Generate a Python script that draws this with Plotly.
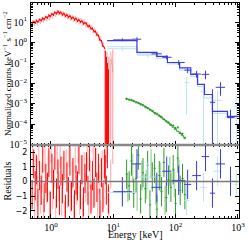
import plotly.graph_objects as go

# ---------------- data ----------------
# dark-red soft X-ray spectrum
red_E = [0.50,0.53,0.56,0.59,0.62,0.66,0.70,0.74,0.78,0.83,0.88,0.93,0.98,1.04,1.10,1.16,1.23,1.30,1.37,1.45,
         1.53,1.62,1.71,1.81,1.91,2.02,2.14,2.26,2.39,2.53,2.67,2.82,2.98,3.15,3.33,3.52,3.72,3.93,4.15,4.39,
         4.64,4.90,5.18,5.47,5.78,6.11,6.46,6.82,7.21]
red_F = [8.2,10.4,9.1,11.6,10.2,13.1,12.0,15.3,13.8,17.9,16.4,21.2,19.0,24.8,22.6,29.5,26.4,33.0,27.1,29.6,
         23.2,25.8,20.1,22.4,17.6,19.8,15.1,17.0,13.2,14.9,11.4,12.8,10.1,11.2,8.4,9.3,8.3,6.1,6.6,4.8,
         4.9,3.5,3.5,2.4,2.2,1.35,1.2,0.68,0.55]
red_R = [-0.9,1.2,-0.3,0.8,-1.5,0.4,-0.6,1.6,-1.1,0.2,-0.4,1.3,-1.7,0.9,-0.2,1.8,-0.8,0.5,-1.3,0.7,
         -0.5,1.1,-1.9,0.3,-0.7,1.4,-1.0,0.6,-1.6,0.1,-0.3,1.5,-0.9,0.8,-1.4,0.2,1.0,-0.6,1.7,-1.2,
         0.4,-0.8,1.3,-0.4,0.9,-1.5,0.6,-1.1,1.2]
# light-red spectrum
pink_E = [0.51,0.545,0.575,0.605,0.64,0.68,0.72,0.76,0.805,0.855,0.905,0.955,1.01,1.07,1.13,1.195,1.265,1.335,1.41,1.49,
          1.575,1.665,1.76,1.86,1.965,2.08,2.2,2.325,2.46,2.6,2.745,2.9,3.065,3.24,3.425,3.62,3.825,4.04,4.27,4.515,
          4.77,5.04,5.325,5.625,5.945,6.285,6.64,7.015,7.41]
pink_F = [10.1,8.6,11.2,9.4,12.3,10.8,14.2,12.6,16.8,14.9,19.8,17.2,23.5,20.4,27.6,24.1,31.2,28.0,30.5,25.2,
          26.9,21.6,23.4,18.3,20.2,15.8,17.9,13.9,15.6,12.1,13.4,10.6,11.9,9.0,10.2,7.6,8.1,6.8,5.4,5.6,
          3.9,4.1,2.7,2.8,1.7,1.6,0.9,0.85,0.42]
pink_R = [1.4,-1.8,0.9,-0.7,2.1,-1.2,0.3,-2.2,1.7,-0.5,1.1,-1.6,2.3,-0.9,0.6,-2.0,1.5,-0.3,1.9,-1.4,
          0.7,-2.4,1.2,-0.8,2.0,-1.1,0.4,-1.9,1.6,-0.6,2.2,-1.3,0.8,-2.1,1.0,-0.4,1.8,-1.7,0.5,-1.0,
          2.4,-0.7,1.3,-1.5,0.2,-2.3,1.1,-0.9,1.6]
# high-energy cut-off channels (upper/lower flux bounds)
redcut_E = [7.45, 7.75, 8.05, 8.35]
redcut_F = [0.25, 0.12, 0.05, 0.03]
redcut_hi = [0.4, 0.2, 0.1, 0.05]
redcut_lo = [1e-7, 1e-7, 1e-7, 1e-7]
redcut_R = [0.8, -0.6, 1.9, -1.2]
pinkcut_E = [7.9, 8.5, 9.1, 9.8]
pinkcut_F = [0.2, 0.1, 0.07, 0.1]
pinkcut_hi = [0.35, 0.2, 0.15, 0.45]
pinkcut_lo = [1e-7, 1e-7, 1e-7, 1e-7]
pinkcut_R = [2.3, -1.4, 0.5, 2.2]
pinkmod_E = [9.0, 9.9]
pinkmod_F = [0.35, 0.035]

# blue hard X-ray spectrum (bins)
blue_E  = [14, 24, 50, 72, 112, 156, 217, 302, 390, 525, 760]
blue_lo = [10, 20, 41, 61, 88, 138, 185, 262, 355, 440, 660]
blue_hi = [20, 28, 60, 86, 140, 178, 255, 345, 430, 620, 880]
blue_F  = [1.35, 1.45, 0.28, 0.19, 0.105, 0.045, 0.029, 0.028, 0.0012, 0.0065, 0.00022]
blue_up = [0.25, 0.35, 0.07, 0.05, 0.03, 0.015, 0.012, 0.014, 0.004, 0.005, 0.0003]
blue_dn = [0.2, 0.3, 0.06, 0.04, 0.025, 0.013, 0.010, 0.012, 0.0012, 0.004, 0.00022]
blue_R  = [-0.7, 1.2, -0.4, 0.7, 0.07, -0.2, 0.4, 1.7, -0.8, 1.2, 0.0]
blue_edges = [8, 24, 50, 74, 116, 175, 225, 290, 390, 680, 1040]
blue_mod   = [1.25, 0.33, 0.21, 0.106, 0.058, 0.028, 0.009, 0.0029, 0.00043, 0.00025]

# light-blue spectrum
lblue_E  = [14, 36, 150, 280, 470, 940]
lblue_lo = [8, 24, 138, 250, 400, 850]
lblue_hi = [24, 50, 165, 310, 550, 1000]
lblue_F  = [0.5, 0.24, 0.011, 0.004, 0.0015, 0.0008]
lblue_up = [0.15, 0.06, 0.01, 0.006, 0.003, 0.002]
lblue_dn = [0.12, 0.05, 0.0107, 0.004, 0.0015, 0.0008]
lblue_R  = [-0.75, 0.3, -1.3, -0.4, 0.7, -0.2]
lblue_edges = [8, 24, 50, 74, 116, 175, 225, 290, 390, 680, 1040]
lblue_mod   = [0.62, 0.27, 0.17, 0.09, 0.045, 0.022, 0.007, 0.002, 0.00035, 0.0002]

# green spectrum
green_E = [16.4,18.0,19.6,21.3,23.2,25.3,27.5,30.0,32.7,35.6,38.8,42.3,46.1,50.2,54.7,59.6,65.0,70.8,77.2,84.1,
           91.6,99.8,108.8,118.6,129.2,141.0]
green_F = [1.8e-3,1.65e-3,1.55e-3,1.42e-3,1.22e-3,1.12e-3,9.6e-4,8.7e-4,7.1e-4,6.3e-4,5.2e-4,4.5e-4,3.6e-4,3.3e-4,
           2.7e-4,2.3e-4,1.8e-4,1.45e-4,1.25e-4,9.8e-5,8.9e-5,6.5e-5,7.2e-5,3.9e-5,3.5e-5,2.2e-5]
green_R = [0.5,-0.3,1.4,-0.8,0.2,1.8,-1.2,0.6,-0.5,1.1,-1.6,0.3,0.9,-1.9,0.4,-0.7,1.3,-1.1,0.1,-0.4,
           0.8,-1.5,1.6,-0.6,0.2,-0.9]
green_edges = [15.6,17.2,18.8,20.4,22.2,24.2,26.4,28.7,31.3,34.1,37.2,40.5,44.2,48.1,52.4,57.1,62.3,67.8,73.9,80.5,
               87.7,95.6,104.2,113.5,123.7,134.8,147.0]
green_mod = [1.75e-3,1.62e-3,1.5e-3,1.37e-3,1.25e-3,1.12e-3,1.0e-3,8.8e-4,7.6e-4,6.5e-4,5.5e-4,4.6e-4,3.8e-4,3.15e-4,
             2.6e-4,2.15e-4,1.75e-4,1.42e-4,1.15e-4,9.2e-5,7.3e-5,5.8e-5,4.6e-5,3.6e-5,2.8e-5,2.2e-5]
lgreen_E = [17.0,20.4,24.2,28.7,34.1,40.5,48.1,57.1,67.8,80.5,95.6,113.5]
lgreen_R = [-0.4,0.9,-1.0,0.4,-0.2,1.2,-0.6,0.3,-1.3,0.7,-0.1,0.5]

# tick labels
x_ticks = [1, 10, 100, 1000]
x_ticktext = ['10<sup>0</sup>', '10<sup>1</sup>', '10<sup>2</sup>', '10<sup>3</sup>']
y_ticks = [1e-5, 1e-4, 1e-3, 1e-2, 1e-1, 1, 10]
y_ticktext = ['10<sup>−5</sup>', '10<sup>−4</sup>', '10<sup>−3</sup>', '10<sup>−2</sup>',
              '10<sup>−1</sup>', '10<sup>0</sup>', '10<sup>1</sup>']
r_ticks = [-2, -1, 0, 1, 2]
r_ticktext = ['−2', '−1', '0', '1', '2']

# ---------------- styles ----------------
RED = '#ff0000'
PINK = 'rgba(255,120,120,0.55)'
BLUE = '#3a3ae0'
LBLUE = '#bfe3ee'
GREEN = '#2e9a2e'
LGREEN = 'rgba(120,190,120,0.6)'
FONT = 'Liberation Serif'

fig = go.Figure()
UP = dict(xaxis='x2', yaxis='y')
LO = dict(xaxis='x', yaxis='y2')


def ebar(x, y, color, axes, ey=None, ex=None, width=1):
    fig.add_trace(go.Scatter(x=x, y=y, mode='markers', marker=dict(size=0.1, color=color),
                             error_y=ey, error_x=ex, showlegend=False, hoverinfo='skip', **axes))


def err(plus, minus, color, width=1):
    return dict(type='data', array=plus, arrayminus=minus, color=color, thickness=width, width=0, symmetric=False)


def xerr(c, lo, hi, color, width=1):
    return dict(type='data', array=[h - e for h, e in zip(hi, c)], arrayminus=[e - l for e, l in zip(c, lo)],
                color=color, thickness=width, width=0, symmetric=False)


def step(edges, vals, color, axes, width=1.2):
    fig.add_trace(go.Scatter(x=edges, y=list(vals) + [vals[-1]], mode='lines', line=dict(color=color, width=width, shape='hv'),
                             showlegend=False, hoverinfo='skip', **axes))

# ---- upper panel ----
ebar(lblue_E, lblue_F, LBLUE, UP, ey=err(lblue_up, lblue_dn, LBLUE), ex=xerr(lblue_E, lblue_lo, lblue_hi, LBLUE))
step(lblue_edges, lblue_mod, LBLUE, UP)
ebar(pink_E, pink_F, PINK, UP, ey=dict(type='percent', value=28, color=PINK, thickness=1.2, width=0))
ebar(pinkcut_E, pinkcut_F, PINK, UP, ey=err([h - f for h, f in zip(pinkcut_hi, pinkcut_F)],
                                           [f - l for f, l in zip(pinkcut_F, pinkcut_lo)], PINK, 1.5))
fig.add_trace(go.Scatter(x=pinkmod_E, y=pinkmod_F, mode='lines', line=dict(color=PINK, width=1.2),
                         showlegend=False, hoverinfo='skip', **UP))
ebar(red_E, red_F, RED, UP, ey=dict(type='percent', value=12, color=RED, thickness=1, width=0))
fig.add_trace(go.Scatter(x=red_E, y=red_F, mode='lines', line=dict(color=RED, width=1),
                         showlegend=False, hoverinfo='skip', **UP))
ebar(redcut_E, redcut_F, RED, UP, ey=err([h - f for h, f in zip(redcut_hi, redcut_F)],
                                         [f - l for f, l in zip(redcut_F, redcut_lo)], RED, 1.2))
step(green_edges, green_mod, GREEN, UP, 1)
ebar(green_E, green_F, GREEN, UP, ey=dict(type='percent', value=14, color=GREEN, thickness=1, width=0),
     ex=dict(type='percent', value=4, color=GREEN, thickness=1, width=0))
step(blue_edges, blue_mod, BLUE, UP)
ebar(blue_E, blue_F, BLUE, UP, ey=err(blue_up, blue_dn, BLUE), ex=xerr(blue_E, blue_lo, blue_hi, BLUE))

# ---- residual panel ----
ebar(pink_E + pinkcut_E, pink_R + pinkcut_R, PINK, LO, ey=dict(type='constant', value=1, color=PINK, thickness=1.2, width=0))
ebar(red_E + redcut_E, red_R + redcut_R, RED, LO, ey=dict(type='constant', value=1, color=RED, thickness=1, width=0))
ebar(lgreen_E, lgreen_R, LGREEN, LO, ey=dict(type='constant', value=1, color=LGREEN, thickness=1.5, width=0))
ebar(green_E, green_R, GREEN, LO, ey=dict(type='constant', value=1, color=GREEN, thickness=1, width=0),
     ex=dict(type='percent', value=4, color=GREEN, thickness=1, width=0))
ebar(lblue_E, lblue_R, LBLUE, LO, ey=dict(type='constant', value=1, color=LBLUE, thickness=1, width=0),
     ex=xerr(lblue_E, lblue_lo, lblue_hi, LBLUE))
ebar(blue_E, blue_R, BLUE, LO, ey=dict(type='constant', value=1, color=BLUE, thickness=1, width=0),
     ex=xerr(blue_E, blue_lo, blue_hi, BLUE))

# ---------------- layout ----------------
SPLIT = 0.34
minor_x = [m * 10 ** k for k in range(-1, 3) for m in range(2, 10)]
minor_y = [m * 10 ** k for k in range(-6, 2) for m in range(2, 10)]
axcommon = dict(showline=True, linecolor='black', linewidth=1, mirror='allticks', ticks='inside',
                ticklen=4, tickcolor='black', showgrid=False, zeroline=False, automargin=False,
                ticklabeloverflow='allow')
SERIF = dict(family=FONT, size=10, color='black')
fig.update_layout(
    width=249, height=241, margin=dict(l=31, r=10, t=3, b=23, autoexpand=False),
    paper_bgcolor='white', plot_bgcolor='white',
    xaxis=dict(type='log', range=[-0.319, 3.017], anchor='y2', domain=[0, 1],
               tickmode='array', tickvals=x_ticks, ticktext=x_ticktext, ticklabelstandoff=0, tickfont=SERIF,
               minor=dict(tickmode='array', tickvals=minor_x, ticks='inside', ticklen=2, tickcolor='black'),
               **axcommon),
    xaxis2=dict(type='log', range=[-0.319, 3.017], anchor='y', matches='x', domain=[0, 1],
                tickmode='array', tickvals=x_ticks, showticklabels=False,
                minor=dict(tickmode='array', tickvals=minor_x, ticks='inside', ticklen=2, tickcolor='black'),
                **axcommon),
    yaxis=dict(type='log', range=[-5, 1.93], domain=[SPLIT, 1], anchor='x2',
               tickmode='array', tickvals=y_ticks, ticktext=y_ticktext, ticklabelstandoff=1, tickfont=SERIF,
               minor=dict(tickmode='array', tickvals=minor_y, ticks='inside', ticklen=2, tickcolor='black'),
               **axcommon),
    yaxis2=dict(range=[-2.5, 2.5], domain=[0, SPLIT], anchor='x',
                tickmode='array', tickvals=r_ticks, ticktext=r_ticktext, ticklabelstandoff=1,
                tickfont=dict(family='DejaVu Sans', size=8, color='black'),
                minor=dict(tickmode='array', tickvals=[-2.5, -1.5, -0.5, 0.5, 1.5, 2.5], ticks='inside', ticklen=2, tickcolor='black'),
                **axcommon),
    shapes=[
        dict(type='line', xref='paper', yref='y2', x0=0, x1=1, y0=0, y1=0, line=dict(color='#777777', width=1.5), layer='above'),
        dict(type='line', xref='paper', yref='paper', x0=0, x1=1, y0=SPLIT, y1=SPLIT, line=dict(color='#888888', width=2.5), layer='above'),
    ],
    annotations=[
        dict(text='Normalized counts keV<sup>−1</sup> s<sup>−1</sup> cm<sup>−2</sup>', xref='paper', yref='paper',
             x=-0.115, y=(1 + SPLIT) / 2, textangle=-90, showarrow=False, xanchor='center', yanchor='middle',
             font=dict(family=FONT, size=9, color='black')),
        dict(text='Residuals', xref='paper', yref='paper', x=-0.115, y=SPLIT / 2, textangle=-90, showarrow=False,
             xanchor='center', yanchor='middle', font=dict(family=FONT, size=10, color='black')),
        dict(text='Energy [keV]', xref='paper', yref='paper', x=0.5, y=-0.078, showarrow=False,
             xanchor='center', yanchor='middle', font=dict(family=FONT, size=10, color='black')),
    ],
)

fig.write_html('out.html', config=dict(displayModeBar=False),
               post_script="document.body.style.margin='0';"
                           "var gd=document.getElementById('{plot_id}');Plotly.relayout(gd,{});")
